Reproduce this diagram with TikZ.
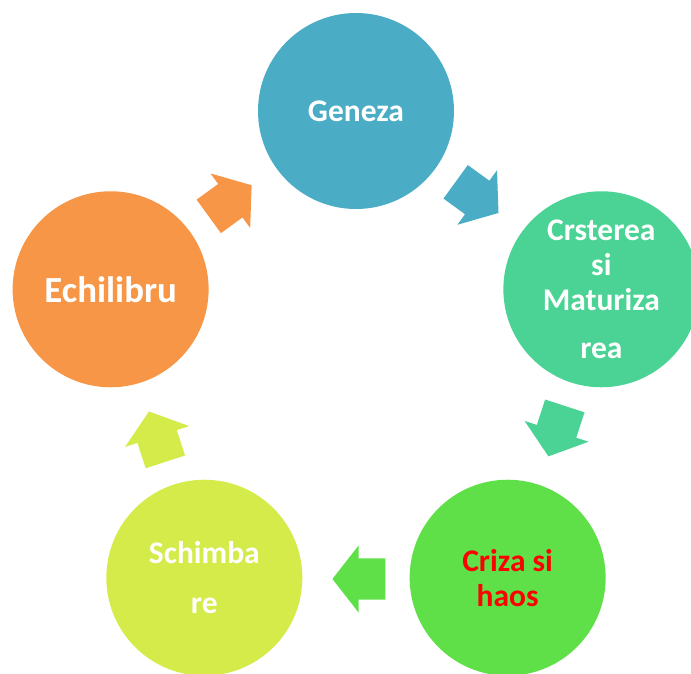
\documentclass[tikz,border=0pt]{standalone}
\usepackage{fontspec}
\setmainfont{Carlito}
\usetikzlibrary{shapes.arrows}

\definecolor{genezablue}{RGB}{75,172,198}
\definecolor{crestgreen}{RGB}{74,211,148}
\definecolor{crizagreen}{RGB}{96,224,72}
\definecolor{schimbyellow}{RGB}{212,235,74}
\definecolor{echiorange}{RGB}{247,150,70}

\begin{document}
\begin{tikzpicture}[x=1pt, y=1pt,
    main/.style = {circle, minimum size=196pt, inner sep=0pt, text=white, align=center,
        font=\fontsize{31.5}{35}\selectfont\bfseries},
    flow/.style = {single arrow, inner xsep=0pt, inner ysep=20.5pt, minimum height=53pt,
        single arrow head extend=13pt, single arrow tip angle=104}]
    \useasboundingbox (-356,-304) rectangle (335,369);

    \node[main, fill=genezablue] (1) at (90:258) {Geneza};
    \node[main, fill=crestgreen] (2) at (18:258) {Crsterea\\si\\Maturiza\\[13pt]rea};
    \node[main, fill=crizagreen, text=red] (3) at (-54:258) {Criza si\\haos};
    \node[main, fill=schimbyellow] (4) at (-126:258) {Schimba\\[15pt]re};
    \node[main, fill=echiorange, font=\fontsize{36.8}{40}\selectfont\bfseries] (5) at (162:258) {Echilibru};

    \node[flow, fill=echiorange, rotate=36, xshift=-11pt] (a1) at (126:210) {};
    \node[flow, fill=genezablue, rotate=-36, xshift=-11pt] (a2) at (54:210) {};
    \node[flow, fill=crestgreen, rotate=-108, xshift=-11pt] (a3) at (-18:210) {};
    \node[flow, fill=crizagreen, rotate=180, xshift=-11pt] (a4) at (-90:210) {};
    \node[flow, fill=schimbyellow, rotate=108, xshift=-11pt] (a5) at (-162:210) {};
\end{tikzpicture}
\end{document}
